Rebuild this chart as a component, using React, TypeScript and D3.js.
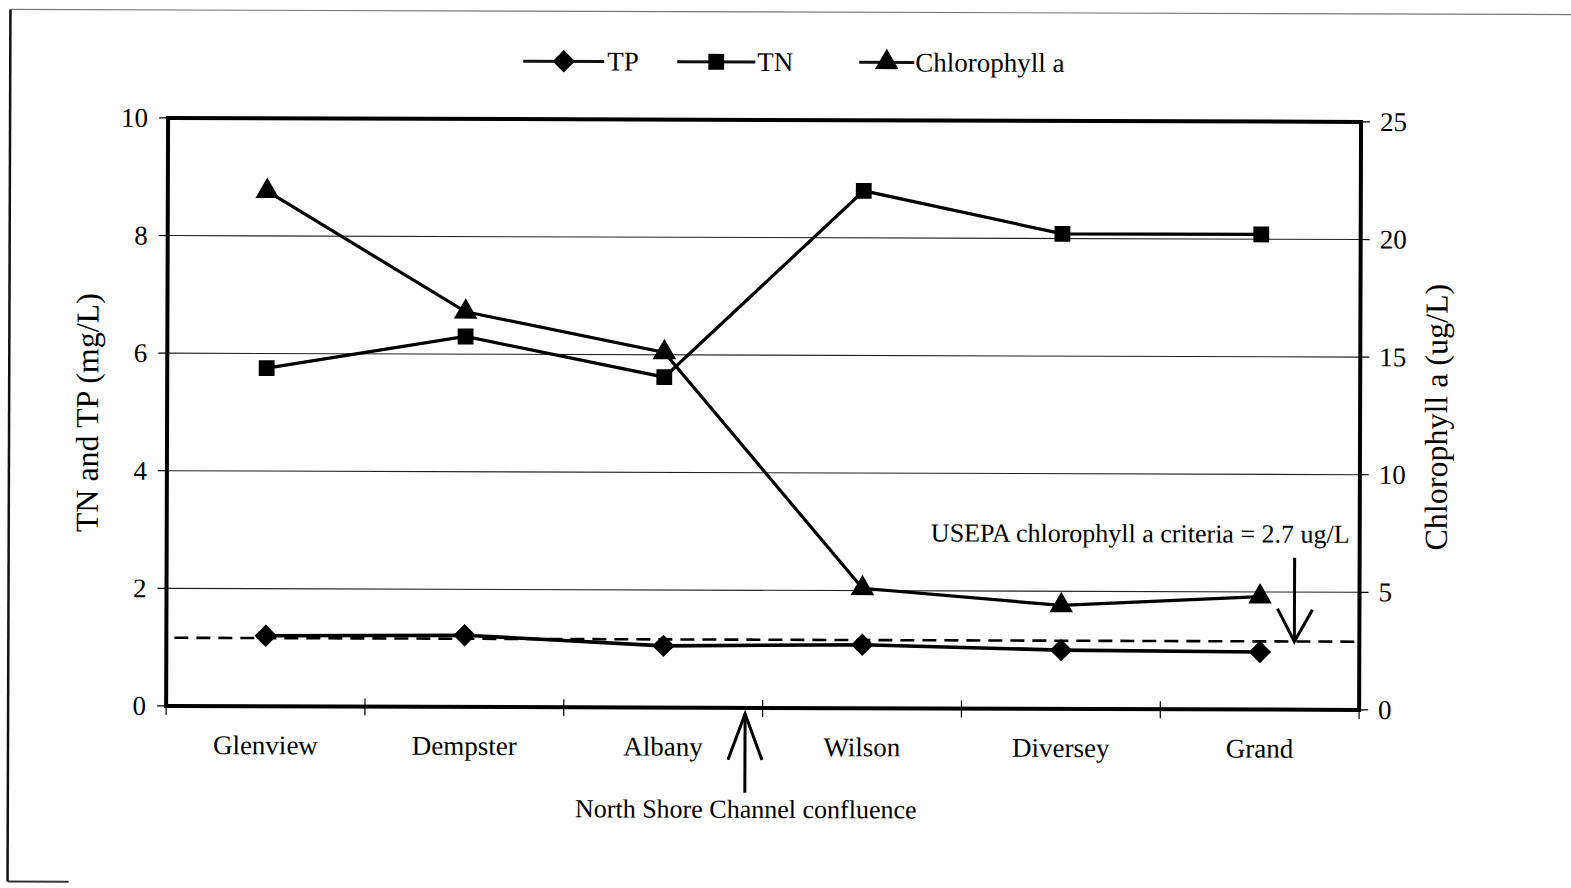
import React from "react";
import * as d3 from "d3";

const categories = ["Glenview", "Dempster", "Albany", "Wilson", "Diversey", "Grand"];
const tpValues = [1.2, 1.22, 1.05, 1.08, 1.0, 0.98];
const tnValues = [5.75, 6.3, 5.62, 8.8, 8.08, 8.08];
const chlValues = [21.9, 16.8, 15.1, 5.1, 4.4, 4.8];
const leftTicks = [0, 2, 4, 6, 8, 10];
const rightTicks = [0, 5, 10, 15, 20, 25];
const criteriaLine = 2.9;

const W = 1571;
const H = 888;
const L = 167, R = 1360, T = 120, B = 708;
const FONT = "'Liberation Serif', 'Times New Roman', serif";

export default function App() {
  const x = d3.scaleBand<string>().domain(categories).range([L, R]);
  const yL = d3.scaleLinear().domain([0, 10]).range([B, T]);
  const yR = d3.scaleLinear().domain([0, 25]).range([B, T]);
  const cx = (c: string) => (x(c) as number) + x.bandwidth() / 2;

  const lineL = d3.line<number>().x((_, i) => cx(categories[i])).y((d) => yL(d));
  const lineR = d3.line<number>().x((_, i) => cx(categories[i])).y((d) => yR(d));

  const diamond = d3.symbol().type(d3.symbolDiamond2).size(320)();
  const square = d3.symbol().type(d3.symbolSquare).size(250)();
  const triangle = d3.symbol().type(d3.symbolTriangle).size(240)();

  const boundaries = [...categories.map((c) => x(c) as number), R];

  const legendItems = [
    { label: "TP", x1: 522, x2: 603, m: diamond, tx: 606 },
    { label: "TN", x1: 676, x2: 754, m: square, tx: 756 },
    { label: "Chlorophyll a", x1: 858, x2: 913, m: triangle, tx: 914 },
  ];

  return (
    <svg
      width={W}
      height={H}
      style={{ position: "absolute", left: 0, top: 0, background: "#fff" }}
      fontFamily={FONT}
    >
      <rect x={0} y={0} width={W} height={H} fill="#fff" />
      <g transform="rotate(0.19 785 444)">
        {/* page frame */}
        <line x1={9} y1={12} x2={W} y2={12} stroke="#777" strokeWidth={1.2} />
        <line x1={9} y1={12} x2={9} y2={884} stroke="#111" strokeWidth={2.5} />
        <line x1={9} y1={884} x2={70} y2={884} stroke="#333" strokeWidth={2} />

        {/* legend */}
        {legendItems.map((it, i) => (
          <g key={i}>
            <line x1={it.x1} x2={it.x2} y1={62} y2={62} stroke="#111" strokeWidth={3} />
            <path d={it.m as string} transform={`translate(${(it.x1 + it.x2) / 2},62)`} fill="#000" />
            <text x={it.tx} y={71} fontSize={27} fill="#000">{it.label}</text>
          </g>
        ))}

        {/* gridlines */}
        {leftTicks.filter((t) => t > 0 && t < 10).map((t) => (
          <line key={t} x1={L} x2={R} y1={yL(t)} y2={yL(t)} stroke="#222" strokeWidth={1.1} />
        ))}

        {/* left ticks */}
        {leftTicks.map((t) => (
          <g key={t}>
            <line x1={L - 9} x2={L} y1={yL(t)} y2={yL(t)} stroke="#000" strokeWidth={1.2} />
            <text x={147} y={yL(t) + 9} fontSize={27} textAnchor="end" fill="#000">{t}</text>
          </g>
        ))}
        {/* right ticks */}
        {rightTicks.map((t) => (
          <g key={t}>
            <line x1={R} x2={R + 9} y1={yR(t)} y2={yR(t)} stroke="#000" strokeWidth={1.2} />
            <text x={1379} y={yR(t) + 9} fontSize={27} textAnchor="start" fill="#000">{t}</text>
          </g>
        ))}
        {/* x ticks */}
        {boundaries.map((b, i) => (
          <line key={i} x1={b} x2={b} y1={B - 8} y2={B + 9} stroke="#000" strokeWidth={1.2} />
        ))}

        {/* criteria dashed line */}
        <line
          x1={175}
          x2={R - 4}
          y1={yR(criteriaLine)}
          y2={yR(criteriaLine)}
          stroke="#000"
          strokeWidth={2.6}
          strokeDasharray="14 8"
        />

        {/* series */}
        <path d={lineL(tnValues) as string} fill="none" stroke="#000" strokeWidth={3.2} />
        <path d={lineR(chlValues) as string} fill="none" stroke="#000" strokeWidth={3.2} />
        <path d={lineL(tpValues) as string} fill="none" stroke="#000" strokeWidth={3.6} />
        {tpValues.map((v, i) => (
          <path key={"tp" + i} d={diamond as string} transform={`translate(${cx(categories[i])},${yL(v)})`} fill="#000" />
        ))}
        {tnValues.map((v, i) => (
          <path key={"tn" + i} d={square as string} transform={`translate(${cx(categories[i])},${yL(v)})`} fill="#000" />
        ))}
        {chlValues.map((v, i) => (
          <path key={"ch" + i} d={triangle as string} transform={`translate(${cx(categories[i])},${yR(v)})`} fill="#000" />
        ))}

        {/* plot frame */}
        <rect x={L} y={T} width={R - L} height={B - T} fill="none" stroke="#000" strokeWidth={4} />

        {/* category labels */}
        {categories.map((c) => (
          <text key={c} x={cx(c)} y={756} fontSize={27} textAnchor="middle" fill="#000">{c}</text>
        ))}

        {/* axis titles */}
        <text transform="translate(98,415) rotate(-90)" fontSize={32} textAnchor="middle" fill="#000">
          TN and TP (mg/L)
        </text>
        <text transform="translate(1447,415) rotate(-90)" fontSize={32} textAnchor="middle" fill="#000">
          Chlorophyll a (ug/L)
        </text>

        {/* USEPA annotation */}
        <text x={1350} y={541} fontSize={26} textAnchor="end" fill="#000">
          USEPA chlorophyll a criteria = 2.7 ug/L
        </text>
        <line x1={1295} x2={1295} y1={556} y2={yR(criteriaLine)} stroke="#000" strokeWidth={3} />
        <polyline
          points={`1278,607 1295,${yR(criteriaLine)} 1313,608`}
          fill="none"
          stroke="#000"
          strokeWidth={3}
        />

        {/* confluence annotation */}
        <line x1={746} x2={746} y1={793} y2={714} stroke="#000" strokeWidth={3} />
        <polyline points="729,760 746,714 763,760" fill="none" stroke="#000" strokeWidth={3} />
        <text x={747} y={818} fontSize={26} textAnchor="middle" fill="#000">
          North Shore Channel confluence
        </text>
      </g>
    </svg>
  );
}
